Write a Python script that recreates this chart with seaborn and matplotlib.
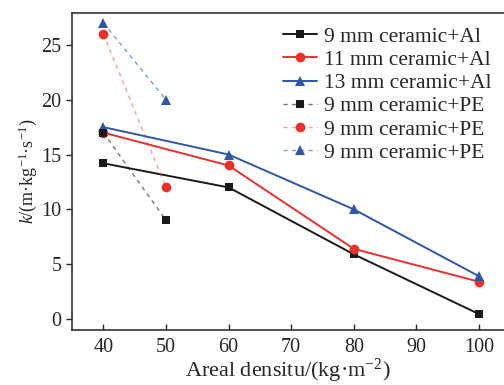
import matplotlib
matplotlib.use("Agg")
import matplotlib.pyplot as plt
import seaborn as sns
import pandas as pd

sns.set_style("ticks")
plt.rcParams['font.family'] = ['Liberation Serif', 'DejaVu Serif']
plt.rcParams['mathtext.fontset'] = 'custom'
plt.rcParams['mathtext.rm'] = 'Liberation Serif'
plt.rcParams['mathtext.it'] = 'Liberation Serif:italic'

x_al = [40, 60, 80, 100]
k_9al = [14.2, 12.0, 5.9, 0.45]
k_11al = [17.0, 14.0, 6.4, 3.4]
k_13al = [17.5, 15.0, 10.0, 3.9]
x_pe = [40, 50]
k_9pe_a = [17.0, 9.0]
k_9pe_b = [26.0, 12.0]
k_9pe_c = [27.0, 20.0]

labels = ["9 mm ceramic+Al", "11 mm ceramic+Al", "13 mm ceramic+Al",
          "9 mm ceramic+PE", "9 mm ceramic+PE", "9 mm ceramic+PE"]
black = "#1a1a1a"
red = "#e8302c"
blue = "#2f56a6"

series = [
    (x_al, k_9al, labels[0], black, "s", "-", 1.4, 1.0, 6),
    (x_al, k_11al, labels[1], red, "o", "-", 1.4, 1.0, 7),
    (x_al, k_13al, labels[2], blue, "^", "-", 1.4, 1.0, 7.5),
    (x_pe, k_9pe_a, labels[3], black, "s", (0, (3, 3)), 1.0, 0.6, 6),
    (x_pe, k_9pe_b, labels[4], red, "o", (0, (3, 3)), 1.0, 0.45, 7),
    (x_pe, k_9pe_c, labels[5], blue, "^", (0, (3, 3)), 1.0, 0.6, 7.5),
]

fig = plt.figure(figsize=(5.04, 3.85), dpi=100)
ax = fig.add_axes([0.143, 0.143, 0.857, 0.823])

for xs, ys, lab, col, mk, ls, lw, a, ms in series:
    df = pd.DataFrame({"x": xs, "y": ys})
    sns.lineplot(data=df, x="x", y="y", ax=ax, color=col, marker=mk,
                 linestyle=ls, linewidth=lw, markersize=ms,
                 markeredgewidth=0, label=lab)
    ln = ax.get_lines()[-1]
    rgba = matplotlib.colors.to_rgba(col, a)
    ln.set_color(rgba)
    ln.set_markerfacecolor(col)
    ln.set_markeredgecolor(col)

ax.set_xlim(35, 104)
ax.set_ylim(-1, 27.9)
ax.set_xticks([40, 50, 60, 70, 80, 90, 100])
ax.set_yticks([0, 5, 10, 15, 20, 25])
ax.tick_params(axis="both", labelsize=14.5, length=4, width=1)
ax.tick_params(axis="x", direction="in", pad=6)
ax.tick_params(axis="y", direction="out")
ax.set_xlabel("Areal densitu/(kg·m$^{-2}$)", fontsize=16, labelpad=0)
ax.set_ylabel("$k$/(m·kg$^{-1}$·s$^{-1}$)", fontsize=13, labelpad=2)
for s in ["left", "bottom", "top"]:
    ax.spines[s].set_linewidth(1.2)
    ax.spines[s].set_color("#333333")
ax.spines["right"].set_visible(False)

leg = ax.legend(loc="upper right", bbox_to_anchor=(0.99, 0.985), frameon=False,
                fontsize=15.5, handlelength=1.6, handletextpad=0.3,
                labelspacing=0.15, borderaxespad=0)

fig.savefig("out.png", dpi=100)
